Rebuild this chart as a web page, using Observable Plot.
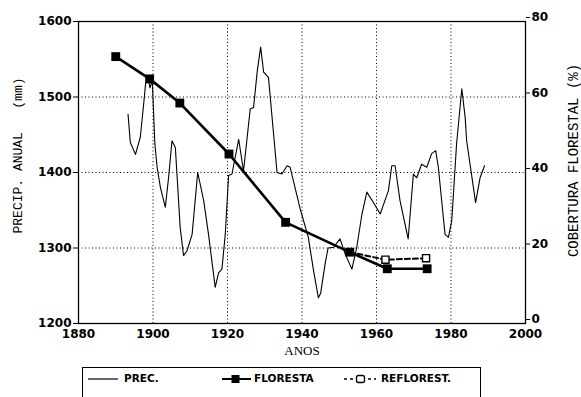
<!DOCTYPE html>
<html>
<head>
<meta charset="utf-8">
<script src="https://cdn.jsdelivr.net/npm/d3@7"></script>
<script src="https://cdn.jsdelivr.net/npm/@observablehq/plot@0.6"></script>
<style>
  html, body { margin: 0; padding: 0; background: #fff; }
  #wrap { position: relative; width: 581px; height: 397px; overflow: hidden; background: #fff; }
  #legend { position: absolute; left: 82px; top: 367px; width: 399px; height: 40px; border: 1.3px solid #000; box-sizing: border-box;
            font-family: "DejaVu Sans", sans-serif; font-weight: bold; font-size: 10.5px; color: #000; }
  #legend .it { position: absolute; top: 4px; white-space: nowrap; }
  #legend svg { position: absolute; top: 4px; }
</style>
</head>
<body>
<div id="wrap"></div>
<script>
// Annual precipitation (mm)
const precYear = [1893.3, 1893.9, 1895.3, 1896.6, 1897.5, 1898.0, 1898.6, 1899.2, 1899.8, 1900.5, 1901.1, 1902.0, 1903.3, 1904.2, 1905.1, 1906.0, 1907.3, 1908.2, 1909.1, 1910.5, 1912.0, 1913.6, 1914.9, 1915.8, 1916.7, 1917.6, 1918.5, 1919.4, 1920.3, 1921.2, 1923.0, 1924.3, 1926.1, 1927.0, 1928.0, 1928.9, 1929.7, 1931.0, 1933.3, 1934.6, 1936.0, 1936.8, 1939.5, 1941.7, 1943.1, 1944.4, 1945.0, 1946.2, 1947.0, 1948.5, 1950.2, 1951.6, 1953.4, 1954.7, 1956.1, 1957.4, 1959.2, 1961.0, 1963.2, 1964.1, 1965.0, 1966.3, 1968.5, 1969.9, 1970.8, 1972.1, 1973.5, 1974.8, 1975.9, 1976.6, 1978.4, 1979.3, 1980.2, 1981.5, 1982.9, 1983.8, 1984.2, 1986.6, 1987.8, 1989.0];
const precVal  = [1477, 1440, 1424, 1447, 1491, 1517, 1527, 1512, 1522, 1438, 1407, 1380, 1354, 1394, 1442, 1433, 1327, 1290, 1296, 1318, 1400, 1363, 1318, 1283, 1248, 1267, 1272, 1318, 1396, 1398, 1444, 1402, 1484, 1486, 1535, 1566, 1533, 1526, 1400, 1398, 1409, 1407, 1352, 1314, 1270, 1234, 1240, 1279, 1300, 1301, 1312, 1292, 1272, 1301, 1345, 1374, 1360, 1345, 1376, 1409, 1409, 1363, 1312, 1398, 1393, 1411, 1407, 1425, 1429, 1407, 1318, 1314, 1336, 1438, 1511, 1473, 1442, 1360, 1393, 1409];
// Forest cover (%)
const florYear = [1890.0, 1899.1, 1907.2, 1920.4, 1935.6, 1952.8, 1962.9, 1973.6];
const florCov  = [70.7, 64.8, 58.4, 44.9, 26.8, 18.9, 14.5, 14.5];
// Reforestation (%)
const reflYear = [1952.8, 1962.4, 1973.3];
const reflCov  = [18.9, 16.9, 17.3];
// Tick labels
const yearTicks = [1880, 1900, 1920, 1940, 1960, 1980, 2000];
const precTicks = [1200, 1300, 1400, 1500, 1600];
const covTicks  = [0, 20, 40, 60, 80];
const gridYears = [1900, 1920, 1940, 1960, 1980];
const gridPrec  = [1300, 1400, 1500];

const covToMm = c => 1200 + c * 5;   // 0..80 % mapped onto 1200..1600 mm
const prec = precYear.map((x, i) => ({x, y: precVal[i]}));
const flor = florYear.map((x, i) => ({x, y: covToMm(florCov[i])}));
const refl = reflYear.map((x, i) => ({x, y: covToMm(reflCov[i])}));

const chart = Plot.plot({
  width: 581,
  height: 362,
  marginLeft: 78,
  marginRight: 56,
  marginTop: 21,
  marginBottom: 39,
  style: {fontFamily: "DejaVu Sans, sans-serif", fontWeight: "bold", fontSize: "12px", color: "#000", background: "#fff"},
  x: {domain: [1880, 2000]},
  y: {domain: [1200, 1600]},
  marks: [
    Plot.ruleY(gridPrec, {stroke: "#000", strokeWidth: 1, strokeDasharray: "1,2.5"}),
    Plot.ruleX(gridYears, {stroke: "#000", strokeWidth: 1, strokeDasharray: "1,2.5"}),
    Plot.frame({stroke: "#000", strokeWidth: 1.3}),
    Plot.axisY(precTicks, {anchor: "left", tickSize: 5, tickPadding: 2, tickFormat: d => String(d), label: null}),
    Plot.axisY(covTicks.map(covToMm), {anchor: "right", tickSize: 4, tickPadding: 2, dy: -4, tickFormat: d => String((d - 1200) / 5), label: null}),
    Plot.axisX(yearTicks, {anchor: "bottom", tickSize: 0, tickPadding: 6, tickFormat: d => String(d), label: null}),
    Plot.line(prec, {x: "x", y: "y", stroke: "#000", strokeWidth: 1.1}),
    Plot.line(refl, {x: "x", y: "y", stroke: "#000", strokeWidth: 2, strokeDasharray: "5,3"}),
    Plot.line(flor, {x: "x", y: "y", stroke: "#000", strokeWidth: 2.6}),
    Plot.dot(flor, {x: "x", y: "y", symbol: "square", r: 5, fill: "#000", stroke: "none"}),
    Plot.dot(refl.slice(1), {x: "x", y: "y", symbol: "square", r: 4, fill: "#fff", stroke: "#000", strokeWidth: 1.4}),
    Plot.text(["PRECIP. ANUAL   (mm)"], {frameAnchor: "left", dx: -61, dy: -17, rotate: -90, textAnchor: "middle",
      fontFamily: "Liberation Mono, monospace", fontWeight: "normal", fontSize: 13}),
    Plot.text(["COBERTURA FLORESTAL (%)"], {frameAnchor: "right", dx: 48, dy: -12, rotate: -90, textAnchor: "middle",
      fontFamily: "Liberation Mono, monospace", fontWeight: "normal", fontSize: 14}),
    Plot.text(["ANOS"], {frameAnchor: "bottom", dy: 31, textAnchor: "middle",
      fontFamily: "Liberation Serif, serif", fontWeight: "normal", fontSize: 13})
  ]
});

const wrap = document.getElementById("wrap");
wrap.appendChild(chart);

const legend = document.createElement("div");
legend.id = "legend";
legend.innerHTML = `
  <svg style="left:5px" width="32" height="14"><line x1="0" y1="7" x2="30" y2="7" stroke="#000" stroke-width="1.2"/></svg>
  <span class="it" style="left:41px">PREC.</span>
  <svg style="left:139px" width="30" height="14"><line x1="0" y1="7" x2="29" y2="7" stroke="#000" stroke-width="2"/><rect x="9.5" y="3" width="8" height="8" fill="#000"/></svg>
  <span class="it" style="left:171px">FLORESTA</span>
  <svg style="left:261px" width="34" height="14"><line x1="0" y1="7" x2="32" y2="7" stroke="#000" stroke-width="1.5" stroke-dasharray="3,3"/><rect x="12.5" y="3.5" width="8" height="7" rx="2" fill="#fff" stroke="#000" stroke-width="1.3"/></svg>
  <span class="it" style="left:298px">REFLOREST.</span>`;
wrap.appendChild(legend);
</script>
</body>
</html>
